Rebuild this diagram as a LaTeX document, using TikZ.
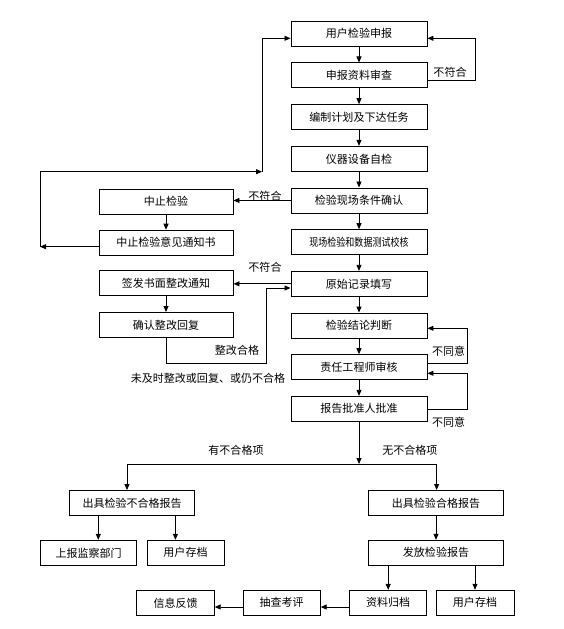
\documentclass[tikz,border=0pt]{standalone}
\usepackage{fontspec}
\setmainfont{Noto Sans CJK SC}
\usepackage{graphicx}
\usetikzlibrary{arrows.meta, positioning, calc}
\tikzset{
  stepW/.style={draw=black, line width=0.8pt, fill=white, inner sep=0pt,
                minimum height=7.5mm, font=\fontsize{9.4}{11}\selectfont},
  mainW/.style={stepW, minimum width=40.8mm},
  sideW/.style={stepW, minimum width=40.2mm},
  lbl/.style={inner sep=0pt, font=\fontsize{9.4}{11}\selectfont},
  arr/.style={draw=black, line width=0.7pt,
              -{Triangle[length=1.8mm, width=1.5mm]}},
}

\begin{document}
\begin{tikzpicture}[x=0.3mm, y=-0.3mm]
    \useasboundingbox (0,0) rectangle (563,629);
    %% Main column
    \foreach \i/\txt in {1/用户检验申报, 2/申报资料审查, 3/编制计划及下达任务,
                         4/仪器设备自检, 5/检验现场条件确认,
                         6/{\scalebox{0.82}[1]{现场检验和数据测试校核}},
                         7/原始记录填写, 8/检验结论判断, 9/责任工程师审核,
                         10/报告批准人批准}{
      \node[mainW] (n\i) at (359, {33.8+(\i-1)*41.67}) {\txt};
    }
    %% Side column
    \node[sideW] (s1) at (166,201.7) {中止检验};
    \node[sideW] (s2) at (166,242.7) {中止检验意见通知书};
    \node[sideW] (s3) at (166,283) {签发书面整改通知};
    \node[sideW] (s4) at (166,325) {确认整改回复};
    %% Reports
    \node[stepW, minimum width=37.6mm] (f1) at (132.2,503) {出具检验不合格报告};
    \node[stepW, minimum width=40.5mm] (f2) at (436,503) {出具检验合格报告};
    \node[stepW, minimum width=29mm] (g1) at (88.6,552.8) {上报监察部门};
    \node[stepW, minimum width=23.1mm] (g2) at (185.5,552.8) {用户存档};
    \node[stepW, minimum width=40.5mm] (h1) at (436,552.8) {发放检验报告};
    \node[stepW, minimum width=23.2mm] (k1) at (175.6,602.8) {信息反馈};
    \node[stepW, minimum width=23.1mm] (k2) at (281.7,602.8) {抽查考评};
    \node[stepW, minimum width=23.2mm] (k3) at (388.2,602.8) {资料归档};
    \node[stepW, minimum width=23.4mm] (k4) at (475,602.8) {用户存档};

    %% Main flow
    \foreach \i in {1,...,9}{
      \pgfmathtruncatemacro{\j}{\i+1}
      \draw[arr] (n\i) -- (n\j);
    }
    \draw[arr] (s1) -- (s2);
    \draw[arr] (s3) -- (s4);

    %% Turning points
    \coordinate (r1) at (475,80);
    \coordinate (r1t) at (475,38.3);
    \coordinate (l1) at (40,246.7);
    \coordinate (l2) at (40,171.7);
    \coordinate (l3) at (262,171.7);
    \coordinate (l4) at (262,38.3);
    \coordinate (m1) at (166,363.3);
    \coordinate (m2) at (266,363.3);
    \coordinate (m3) at (266,288);
    \coordinate (q1) at (467,363.3);
    \coordinate (q2) at (467,328.3);
    \coordinate (q3) at (467,409);
    \coordinate (q4) at (467,373.3);
    \coordinate (b0) at (359,464);
    \coordinate (bl) at (127,464);
    \coordinate (br) at (436.6,464);
    \coordinate (t1) at (98.3,0);
    \coordinate (t2) at (175.4,0);
    \coordinate (t3) at (0,607);

    %% Loops back
    \draw[arr] (n2.east |- r1) -| (r1t) -- (n1.east |- r1t);
    \draw[arr] (s2.west |- l1) -- (l1);
    \draw[arr] (l1) -- (l2) -- (l3);
    \draw[arr] (l3) -- (l4) -- (n1.west |- l4);
    \draw[arr] (n5.west) -- (n5.west -| s1.east);
    \draw[arr] (n7.west) -- (n7.west -| s3.east);
    \draw[arr] (s4.south) -- (m1) -- (m2) -- (m3) -- (n7.west |- m3);
    \draw[arr] (n9.east |- q1) -| (q2) -- (n8.east |- q2);
    \draw[arr] (n10.east |- q3) -| (q4) -- (n9.east |- q4);

    %% Branches
    \draw[arr] (n10.south) -- (b0);
    \draw[arr] (b0) -- (bl) -- (f1.north -| bl);
    \draw[arr] (b0) -- (br) -- (f2.north -| br);
    \draw[arr] (f1.south -| t1) -- (g1.north -| t1);
    \draw[arr] (f1.south -| t2) -- (g2.north -| t2);
    \draw[arr] (f2) -- (h1);
    \draw[arr] (h1.south -| k3.north) -- (k3.north);
    \draw[arr] (h1.south -| k4.north) -- (k4.north);
    \draw[arr] (k3.west |- t3) -- (k2.east |- t3);
    \draw[arr] (k2.west |- t3) -- (k1.east |- t3);

    %% Labels
    \node[lbl] (a1) at (450,72.7) {不符合};
    \node[lbl] (a2) at (265,196) {不符合};
    \node[lbl] (a3) at (265,267) {不符合};
    \node[lbl] (a4) at (237,350) {整改合格};
    \node[lbl] (a5) at (208,378.3) {未及时整改或回复、或仍不合格};
    \node[lbl] (a6) at (448.6,351.7) {不同意};
    \node[lbl] (a7) at (448.6,422.7) {不同意};
    \node[lbl] (a8) at (236,450) {有不合格项};
    \node[lbl] (a9) at (409.8,450) {无不合格项};
  \end{tikzpicture}
\end{document}
